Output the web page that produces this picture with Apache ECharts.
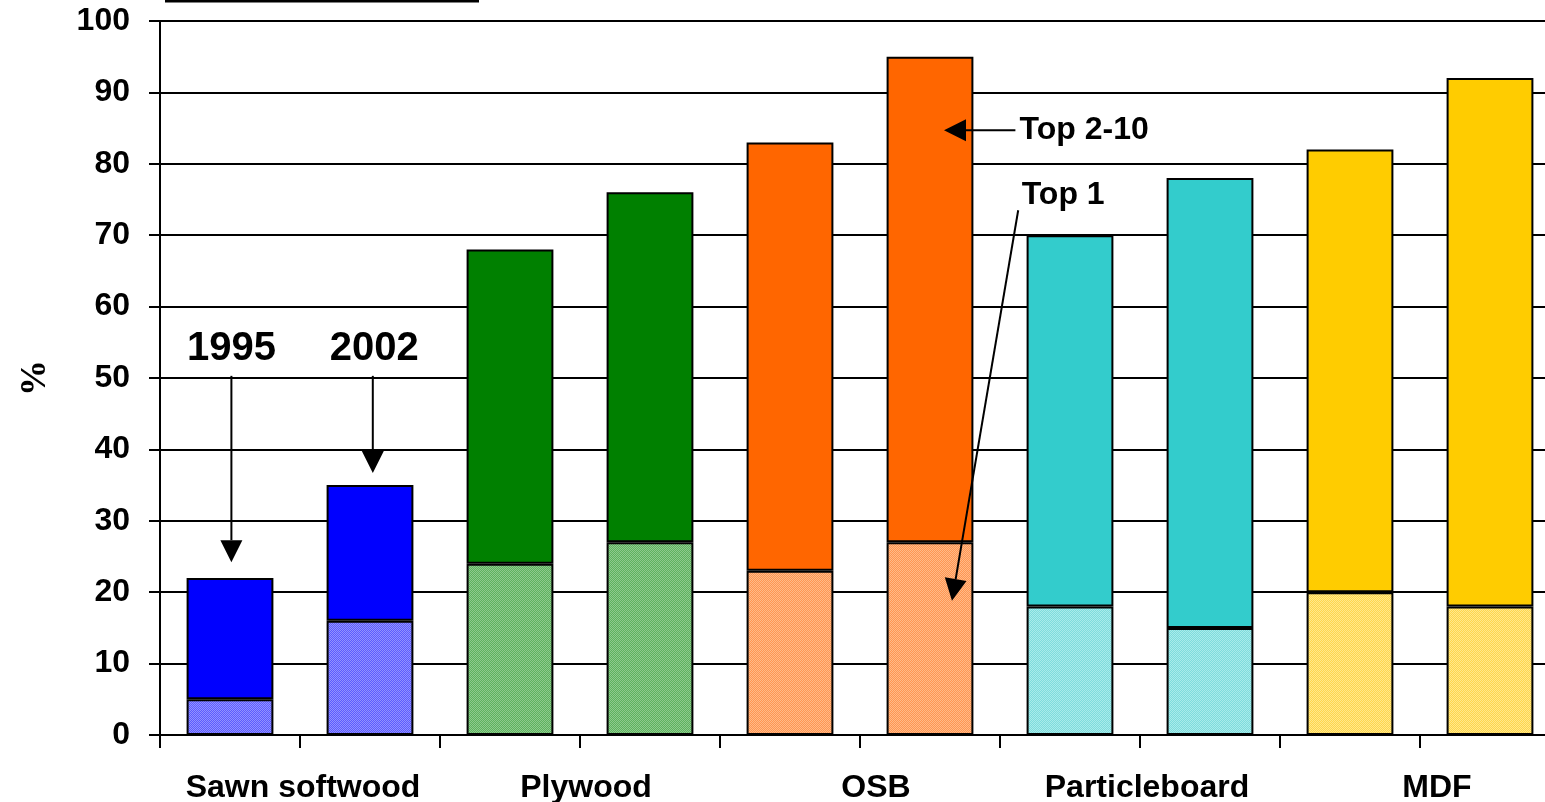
<!DOCTYPE html>
<html>
<head>
<meta charset="utf-8">
<script src="https://cdn.jsdelivr.net/npm/echarts@6/dist/echarts.min.js"></script>
<style>
  html, body { margin: 0; padding: 0; background: #fff; }
  #chart { width: 1545px; height: 802px; }
</style>
</head>
<body>
<div id="chart"></div>
<script>
// Wood products: share held by the largest producers, 1995 vs 2002
const products = ['Sawn softwood', 'Plywood', 'OSB', 'Particleboard', 'MDF'];
const years = ['1995', '2002'];
// one slot per product-year, in order
const slots = ['Sawn softwood 1995', 'Sawn softwood 2002', 'Plywood 1995', 'Plywood 2002',
               'OSB 1995', 'OSB 2002', 'Particleboard 1995', 'Particleboard 2002', 'MDF 1995', 'MDF 2002'];
const top1 = [5, 16, 24, 27, 23, 27, 18, 15, 20, 18];
const top2to10 = [17, 19, 44, 49, 60, 68, 52, 63, 62, 74];
const yTicks = [0, 10, 20, 30, 40, 50, 60, 70, 80, 90, 100];

// solid fills for Top 2-10, dithered pairs for Top 1
const solidColors = ['#0000FF', '#008000', '#FF6600', '#33CCCC', '#FFCC00'];
const ditherColors = [
  ['#5C5CFF', '#9292FF'],
  ['#5EB25E', '#8ECA8E'],
  ['#FF9652', '#FFBA88'],
  ['#7EDCDC', '#A8EBEB'],
  ['#FFD64C', '#FFE88C']
];
// left padding (px) nudging each product name under its pair of bars
const productLabelPad = [6, 12, 32, 14, 34];

function ditherPattern(pair) {
  const c = document.createElement('canvas');
  c.width = 4; c.height = 4;
  const g = c.getContext('2d');
  g.fillStyle = pair[0];
  g.fillRect(0, 0, 4, 4);
  g.fillStyle = pair[1];
  for (let y = 0; y < 4; y++) {
    for (let x = 0; x < 4; x++) {
      if ((x + y) % 2 === 0) g.fillRect(x, y, 1, 1);
    }
  }
  return { image: c, repeat: 'repeat' };
}

const patterns = ditherColors.map(ditherPattern);
const groupOf = i => Math.floor(i / years.length);

const chart = echarts.init(document.getElementById('chart'));
const font = 'Liberation Sans, Arial, sans-serif';

const productRich = {};
productLabelPad.forEach((p, i) => {
  productRich['p' + i] = { padding: [0, 0, 0, p], color: '#000', fontFamily: font, fontWeight: 'bold', fontSize: 32 };
});

chart.setOption({
  animation: false,
  backgroundColor: '#fff',
  grid: { left: 160, top: 21, width: 1400, height: 714, containLabel: false, outerBoundsMode: 'none' },
  xAxis: [
    {
      type: 'category',
      data: slots,
      axisLine: { lineStyle: { color: '#000', width: 2 } },
      axisTick: { show: true, length: 13, interval: 0, lineStyle: { color: '#000', width: 2 } },
      axisLabel: { show: false },
      splitLine: { show: false }
    },
    {
      type: 'category',
      data: products,
      position: 'bottom',
      axisLine: { show: false },
      axisTick: { show: false },
      axisLabel: {
        interval: 0, hideOverlap: false, margin: 37, color: '#000',
        fontFamily: font, fontWeight: 'bold', fontSize: 32,
        formatter: (v, i) => '{p' + i + '|' + v + '}',
        rich: productRich
      },
      splitLine: { show: false }
    }
  ],
  yAxis: {
    type: 'value',
    min: yTicks[0],
    max: yTicks[yTicks.length - 1],
    interval: yTicks[1] - yTicks[0],
    name: '%',
    nameLocation: 'middle',
    nameRotate: 90,
    nameGap: 106,
    nameTextStyle: { color: '#000', fontFamily: 'Liberation Serif, Times New Roman, serif', fontWeight: 'bold', fontSize: 36 },
    axisLine: { show: true, lineStyle: { color: '#000', width: 2 } },
    axisTick: { show: true, length: 11, lineStyle: { color: '#000', width: 2 } },
    axisLabel: { margin: 30, color: '#000', fontFamily: font, fontWeight: 'bold', fontSize: 32 },
    splitLine: { show: true, lineStyle: { color: '#000', width: 2 } }
  },
  series: [
    {
      name: 'Top 1',
      type: 'bar',
      stack: 'share',
      xAxisIndex: 0,
      barWidth: '62%',
      data: top1.map((v, i) => ({ value: v, itemStyle: { color: patterns[groupOf(i)] } })),
      itemStyle: { borderColor: '#000', borderWidth: 2 }
    },
    {
      name: 'Top 2-10',
      type: 'bar',
      stack: 'share',
      xAxisIndex: 0,
      barWidth: '62%',
      data: top2to10.map((v, i) => ({ value: v, itemStyle: { color: solidColors[groupOf(i)] } })),
      itemStyle: { borderColor: '#000', borderWidth: 2 }
    }
  ]
});

// Pixel position for a (fractional) slot index and a percentage value
function px(slot, val) {
  const a = chart.convertToPixel({ xAxisIndex: 0, yAxisIndex: 0 }, [0, val]);
  const b = chart.convertToPixel({ xAxisIndex: 0, yAxisIndex: 0 }, [1, val]);
  return [a[0] + (b[0] - a[0]) * slot, a[1]];
}

function arrow(from, to, headLen, headHalf) {
  const dx = to[0] - from[0], dy = to[1] - from[1];
  const len = Math.hypot(dx, dy);
  const ux = dx / len, uy = dy / len;
  const bx = to[0] - ux * headLen, by = to[1] - uy * headLen;
  const nx = -uy, ny = ux;
  return [
    { type: 'line', shape: { x1: from[0], y1: from[1], x2: bx, y2: by },
      style: { stroke: '#000', lineWidth: 2 }, z: 100 },
    { type: 'polygon',
      shape: { points: [to, [bx + nx * headHalf, by + ny * headHalf], [bx - nx * headHalf, by - ny * headHalf]] },
      style: { fill: '#000' }, z: 100 }
  ];
}

function label(text, pos, size, align) {
  return { type: 'text', x: pos[0], y: pos[1], z: 100,
    style: { text: text, fill: '#000', font: 'bold ' + size + 'px ' + font,
             textAlign: align, textVerticalAlign: 'middle' } };
}

const g = [];
// year callouts over the first pair of bars
g.push(label(years[0], px(0.01, 54.0), 40, 'center'));
g.push(label(years[1], px(1.03, 54.0), 40, 'center'));
g.push(...arrow(px(0.01, 50.3), px(0.01, 24.2), 22, 11));
g.push(...arrow(px(1.02, 50.3), px(1.02, 36.7), 22, 11));
// series callouts next to the tallest bar
g.push(label('Top 2-10', px(5.64, 84.7), 32, 'left'));
g.push(...arrow(px(5.61, 84.7), px(5.1, 84.7), 22, 11));
g.push(label('Top 1', px(5.655, 75.6), 32, 'left'));
g.push(...arrow(px(5.63, 73.5), px(5.157, 18.8), 22, 11));
// rule along the top edge
g.push({ type: 'line', shape: { x1: 165, y1: 1, x2: 479, y2: 1 },
         style: { stroke: '#000', lineWidth: 3 }, z: 100 });

chart.setOption({ graphic: g });
</script>
</body>
</html>
